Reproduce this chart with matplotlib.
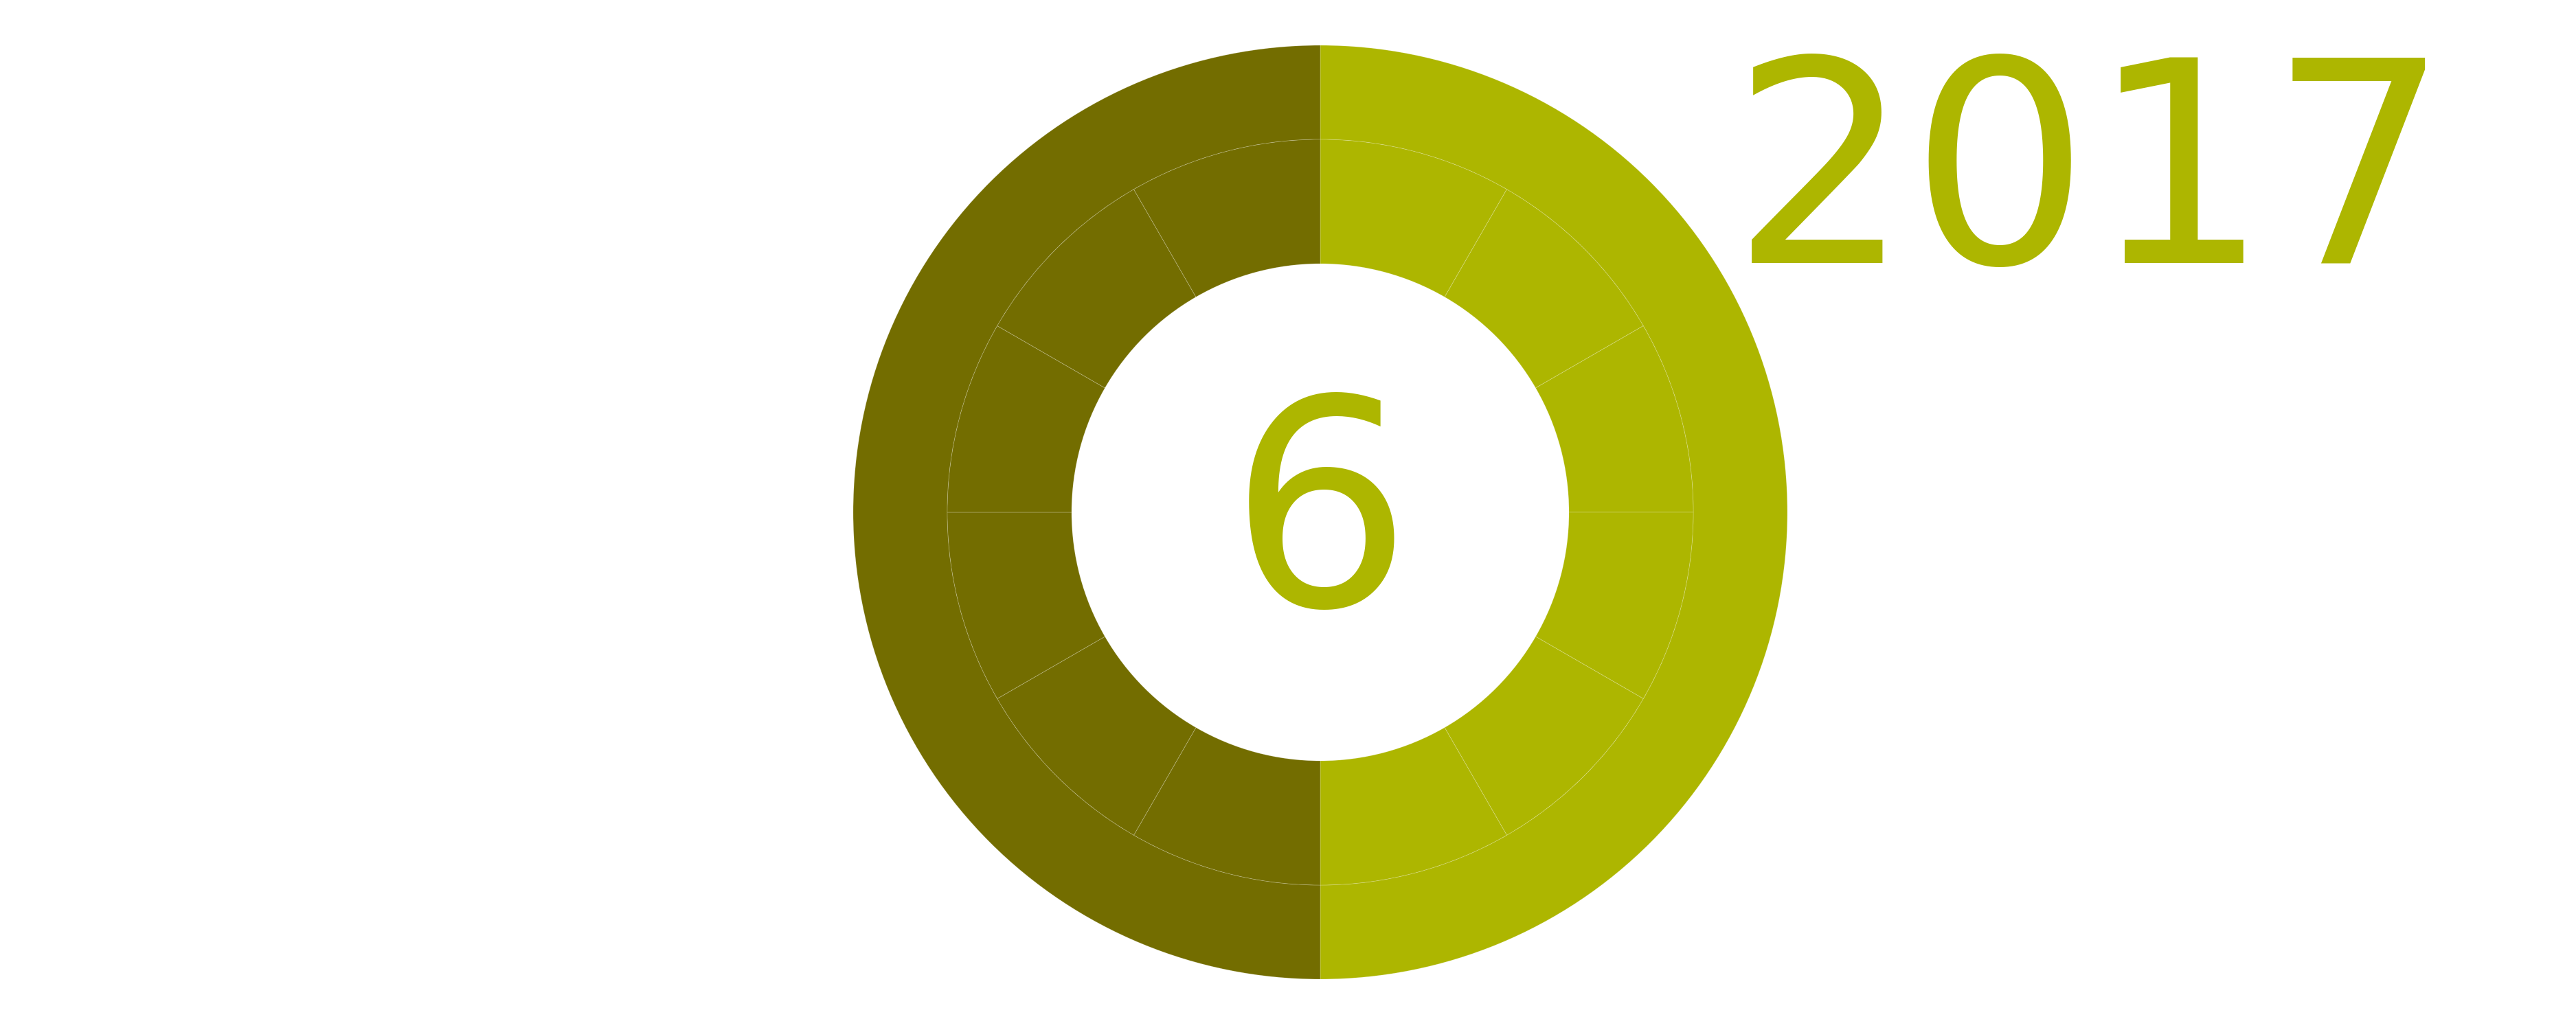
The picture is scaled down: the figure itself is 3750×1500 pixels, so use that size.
import matplotlib.pyplot as plt

# data
outer_values = [6, 6]          # done / remaining half of the year
inner_values = [1] * 12        # one segment per month
center_label = "6"
year_label = "2017"

light = "#adb600"
dark = "#736d00"

outer_colors = [light, dark]
inner_colors = [light] * 6 + [dark] * 6

# figure is laid out in pixel units (3750 x 1500)
fig = plt.figure(figsize=(37.5, 15), dpi=100)
ax = fig.add_axes([0, 0, 1, 1])

cx, cy = 1922, 754
r_outer = 680
r_mid = 543
r_hole = 362

edge = dict(edgecolor=(1, 1, 1, 0.25), linewidth=0.6)

ax.pie(outer_values, radius=r_outer, center=(cx, cy), startangle=90,
       counterclock=False, colors=outer_colors,
       wedgeprops=dict(width=r_outer - r_mid, **edge))
ax.pie(inner_values, radius=r_mid, center=(cx, cy), startangle=90,
       counterclock=False, colors=inner_colors,
       wedgeprops=dict(width=r_mid - r_hole, **edge))

ax.text(cx, 1500 - 882, center_label, color=light, fontsize=302,
        ha="center", va="baseline", family="DejaVu Sans")
ax.text(3043, 1500 - 383, year_label, color=light, fontsize=296,
        ha="center", va="baseline", family="DejaVu Sans")

ax.set_xlim(0, 3750)
ax.set_ylim(0, 1500)
ax.set_aspect("equal")
ax.axis("off")

fig.savefig("out.png", dpi=100, facecolor="white")
